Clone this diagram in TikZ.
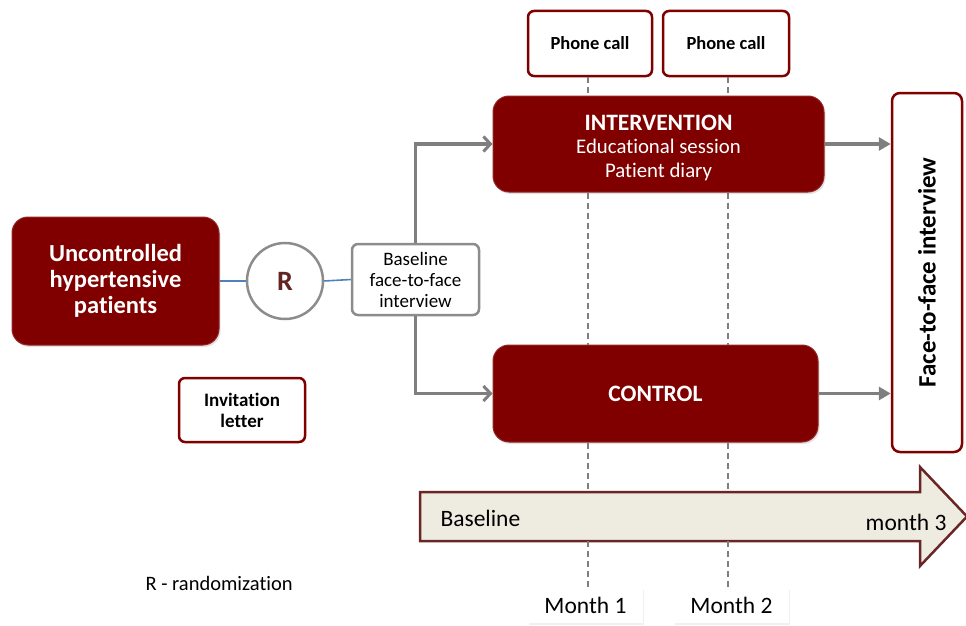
\documentclass[tikz,border=0pt]{standalone}
\usepackage{fontspec}
\setmainfont{Carlito}[Ligatures=NoCommon]
\usetikzlibrary{arrows.meta,shadows}

\definecolor{darkmaroon}{HTML}{800000}
\definecolor{flowgray}{HTML}{7F7F7F}
\definecolor{dashgray}{HTML}{7F7F7F}
\definecolor{linkblue}{HTML}{4F81BD}
\definecolor{rletter}{HTML}{632523}
\definecolor{tlfill}{HTML}{EEECE1}
\definecolor{tledge}{HTML}{6A2626}

\tikzset{
  redbox/.style={rectangle, rounded corners=16pt, fill=darkmaroon, draw=darkmaroon!85!white,
    line width=1pt, text=white, align=center, inner sep=0pt,
    drop shadow={opacity=0.22, shadow xshift=1.5pt, shadow yshift=-2pt}},
  whitebox/.style={rectangle, rounded corners=6pt, fill=white, draw=darkmaroon,
    line width=2.5pt, align=center, inner sep=0pt, text=black},
  graybox/.style={rectangle, rounded corners=6pt, fill=white, draw=flowgray!90!white,
    line width=2.5pt, align=center, inner sep=0pt},
  monthbox/.style={rectangle, fill=white, inner sep=0pt, align=center,
    drop shadow={opacity=0.12, shadow xshift=1pt, shadow yshift=-2pt}},
  flow/.style={draw=flowgray, line width=3.5pt},
  barb/.style={-{Straight Barb[length=7pt,width=15pt,line width=3pt]}},
  tri/.style={-{Triangle[length=12pt,width=13pt]}},
  link/.style={draw=linkblue, line width=1.6pt},
  timeline/.style={dashgray, line width=1.6pt, dash pattern=on 6pt off 4pt},
}

\begin{document}
\begin{tikzpicture}[x=1pt,y=-1pt]
\useasboundingbox (0,0) rectangle (966,626);

% Phone calls
\node[whitebox, minimum width=124pt, minimum height=65pt, font=\fontsize{18.5}{22}\selectfont\bfseries]
  (phone1) at (590,43.5) {Phone call};
\node[whitebox, minimum width=126pt, minimum height=65pt, font=\fontsize{18.5}{22}\selectfont\bfseries]
  (phone2) at (726,43.5) {Phone call};

% Study arms
\node[redbox, minimum width=331pt, minimum height=96pt,
  font=\fontsize{20.8}{23.5}\selectfont] (interv) at (658.5,144)
  {\rule{0pt}{23pt}{\fontsize{23.5}{23.5}\selectfont\bfseries INTERVENTION}\\
   Educational session\\
   Patient diary};
\node[redbox, minimum width=325pt, minimum height=97pt,
  font=\fontsize{23.5}{26}\selectfont\bfseries] (control) at (655.5,393.5) {CONTROL};

% Population and randomisation
\node[redbox, minimum width=207pt, minimum height=128pt,
  font=\fontsize{24.5}{26}\selectfont\bfseries] (patients) at (115.5,281)
  {Uncontrolled\\hypertensive\\patients};
\node[circle, draw=flowgray!90!white, line width=2.5pt, fill=white, minimum size=76pt,
  inner sep=0pt, text=rletter, font=\fontsize{28}{30}\selectfont\bfseries] (rand) at (285,281) {R};
\node[graybox, minimum width=127pt, minimum height=71pt,
  font=\fontsize{19}{21}\selectfont] (baseline) at (415.5,279.5)
  {Baseline\\face-to-face\\interview};

\node[whitebox, minimum width=126pt, minimum height=64pt,
  font=\fontsize{19}{21}\selectfont\bfseries] (invite) at (242,410) {Invitation\\letter};

% Final interview
\node[whitebox, rounded corners=8pt, minimum width=70pt, minimum height=359pt] (final) at (927,272.5) {};
\node[rotate=90, font=\fontsize{25}{28}\selectfont\bfseries] (finaltext) at (final.center) {Face-to-face interview};

% Time axis
\coordinate (tlA) at (420,492);
\coordinate (tlB) at (920,492);
\coordinate (tlC) at (920,467);
\coordinate (tlD) at (967,516.5);
\coordinate (tlE) at (920,566);
\coordinate (tlF) at (920,541);
\coordinate (tlG) at (420,541);
\draw[fill=tlfill, draw=tledge, line width=2.5pt, line join=miter]
  (tlA) -- (tlB) -- (tlC) -- (tlD) -- (tlE) -- (tlF) -- (tlG) -- cycle;
\node[anchor=west, font=\fontsize{23.5}{26}\selectfont] (tlstart) at (437,518) {Baseline};
\node[anchor=east, font=\fontsize{23.5}{26}\selectfont] (tlend) at (950,522) {month 3};

\node[monthbox, minimum width=115pt, minimum height=35pt, font=\fontsize{23.5}{26}\selectfont]
  (month1) at (585.5,605) {Month 1};
\node[monthbox, minimum width=115pt, minimum height=35pt, font=\fontsize{23.5}{26}\selectfont]
  (month2) at (731.5,605) {Month 2};

\node[anchor=west, font=\fontsize{20.5}{24}\selectfont] (legend) at (142,583) {R - randomization};

% Links from population through randomisation
\draw[link] (patients.east) -- (rand.west);
\draw[link] (rand.east) -- (baseline.west);

% Allocation arrows
\draw[flow, barb] (baseline.north) |- (interv.west);
\draw[flow, barb] (baseline.south) |- (control.west);
\draw[flow, tri] (interv.east) -- (interv.east -| final.west);
\draw[flow, tri] (control.east) -- (control.east -| final.west);

% Month markers
\coordinate (m1) at (588,0);
\coordinate (m2) at (728,0);
\draw[timeline] (m1 |- phone1.south) -- (m1 |- interv.north);
\draw[timeline] (m1 |- interv.south) -- (m1 |- control.north);
\draw[timeline] (m1 |- control.south) -- (m1 |- tlA);
\draw[timeline] (m1 |- tlG) -- (m1 |- month1.north);
\draw[timeline] (m2 |- phone2.south) -- (m2 |- interv.north);
\draw[timeline] (m2 |- interv.south) -- (m2 |- control.north);
\draw[timeline] (m2 |- control.south) -- (m2 |- tlA);
\draw[timeline] (m2 |- tlG) -- (m2 |- month2.north);
\end{tikzpicture}
\end{document}
